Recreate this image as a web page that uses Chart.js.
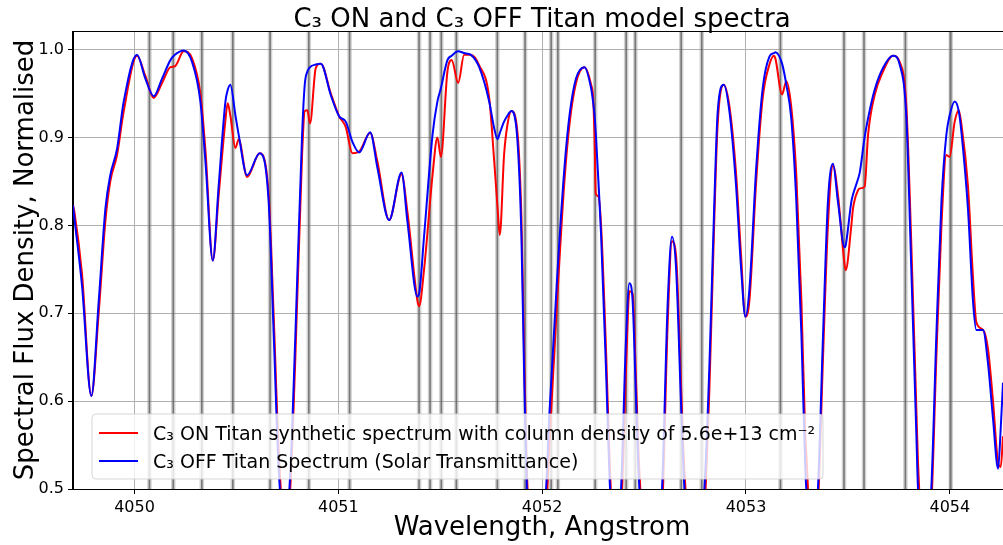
<!DOCTYPE html>
<html>
<head>
<meta charset="utf-8">
<script src="https://cdn.jsdelivr.net/npm/chart.js@4/dist/chart.umd.min.js"></script>
<style>
  html, body { margin: 0; padding: 0; background: #fff; }
  #wrap { width: 1003px; height: 545px; }
</style>
</head>
<body>
<div id="wrap"><canvas id="spectra" width="1003" height="545"></canvas></div>
<script>
// Wavelength grid (Angstrom) and normalised flux
const wavelength = [
  4049.698, 4049.705, 4049.742, 4049.788, 4049.824, 4049.857, 4049.881, 4049.914, 4049.947, 4050.012,
  4050.053, 4050.094, 4050.135, 4050.176, 4050.198, 4050.241, 4050.282, 4050.323, 4050.348, 4050.384,
  4050.413, 4050.446, 4050.457, 4050.470, 4050.495, 4050.511, 4050.552, 4050.614, 4050.658, 4050.683,
  4050.707, 4050.740, 4050.765, 4050.789, 4050.822, 4050.835, 4050.848, 4050.861, 4050.889, 4050.914,
  4050.963, 4051.004, 4051.036, 4051.069, 4051.102, 4051.156, 4051.192, 4051.249, 4051.310, 4051.339,
  4051.388, 4051.396, 4051.421, 4051.462, 4051.486, 4051.503, 4051.535, 4051.556, 4051.588, 4051.617,
  4051.650, 4051.691, 4051.740, 4051.765, 4051.781, 4051.792, 4051.813, 4051.830, 4051.849, 4051.879,
  4051.898, 4051.911, 4051.925, 4051.970, 4052.019, 4052.035, 4052.076, 4052.109, 4052.134, 4052.166,
  4052.207, 4052.240, 4052.250, 4052.257, 4052.263, 4052.276, 4052.289, 4052.313, 4052.333, 4052.360,
  4052.387, 4052.412, 4052.428, 4052.444, 4052.461, 4052.477, 4052.530, 4052.588, 4052.616, 4052.637,
  4052.657, 4052.681, 4052.698, 4052.750, 4052.796, 4052.820, 4052.845, 4052.861, 4052.891, 4052.919,
  4052.951, 4052.976, 4052.997, 4053.017, 4053.050, 4053.082, 4053.115, 4053.137, 4053.144, 4053.177,
  4053.198, 4053.222, 4053.247, 4053.272, 4053.291, 4053.296, 4053.325, 4053.353, 4053.378, 4053.402,
  4053.427, 4053.451, 4053.484, 4053.489, 4053.517, 4053.525, 4053.550, 4053.558, 4053.582, 4053.599,
  4053.631, 4053.672, 4053.721, 4053.754, 4053.787, 4053.811, 4053.836, 4053.844, 4053.875, 4053.909,
  4053.934, 4053.959, 4053.983, 4053.999, 4054.024, 4054.044, 4054.057, 4054.089, 4054.114, 4054.130,
  4054.163, 4054.187, 4054.212, 4054.237, 4054.250, 4054.261
];

// C3 OFF (solar transmittance) - blue
const c3OffFlux = [
  0.823, 0.808, 0.732, 0.606, 0.713, 0.819, 0.857, 0.887, 0.941, 0.994,
  0.967, 0.947, 0.967, 0.988, 0.994, 0.999, 0.986, 0.941, 0.872, 0.760,
  0.846, 0.941, 0.954, 0.960, 0.925, 0.903, 0.857, 0.882, 0.827, 0.675,
  0.523, 0.450, 0.523, 0.675, 0.903, 0.960, 0.975, 0.980, 0.983, 0.984,
  0.948, 0.924, 0.918, 0.895, 0.883, 0.906, 0.865, 0.806, 0.860, 0.804,
  0.719, 0.722, 0.789, 0.903, 0.941, 0.956, 0.988, 0.993, 0.998, 0.996,
  0.994, 0.980, 0.941, 0.910, 0.898, 0.905, 0.918, 0.925, 0.930, 0.895,
  0.789, 0.637, 0.500, 0.400, 0.500, 0.584, 0.751, 0.865, 0.925, 0.967,
  0.980, 0.956, 0.940, 0.925, 0.905, 0.850, 0.789, 0.637, 0.500, 0.420,
  0.500, 0.675, 0.734, 0.713, 0.599, 0.500, 0.380, 0.500, 0.713, 0.787,
  0.751, 0.599, 0.500, 0.400, 0.500, 0.637, 0.829, 0.929, 0.960, 0.929,
  0.846, 0.751, 0.696, 0.728, 0.865, 0.956, 0.992, 0.996, 0.997, 0.984,
  0.960, 0.922, 0.827, 0.675, 0.523, 0.500, 0.420, 0.500, 0.675, 0.827,
  0.870, 0.827, 0.775, 0.777, 0.827, 0.835, 0.853, 0.860, 0.900, 0.922,
  0.954, 0.979, 0.993, 0.983, 0.922, 0.751, 0.561, 0.500, 0.430, 0.500,
  0.675, 0.827, 0.903, 0.925, 0.941, 0.930, 0.906, 0.819, 0.713, 0.681,
  0.681, 0.644, 0.580, 0.523, 0.570, 0.621
];

// C3 ON (synthetic, N = 5.6e13 cm^-2) - red
const c3OnFlux = [
  0.823, 0.815, 0.745, 0.606, 0.700, 0.805, 0.850, 0.880, 0.930, 0.993,
  0.970, 0.945, 0.962, 0.980, 0.981, 0.998, 0.990, 0.950, 0.885, 0.760,
  0.835, 0.920, 0.939, 0.925, 0.888, 0.898, 0.855, 0.882, 0.835, 0.695,
  0.545, 0.450, 0.505, 0.650, 0.880, 0.930, 0.931, 0.916, 0.979, 0.984,
  0.950, 0.924, 0.912, 0.882, 0.884, 0.905, 0.872, 0.806, 0.858, 0.815,
  0.714, 0.708, 0.751, 0.857, 0.900, 0.878, 0.975, 0.988, 0.962, 0.994,
  0.994, 0.982, 0.945, 0.872, 0.820, 0.789, 0.880, 0.915, 0.930, 0.905,
  0.810, 0.660, 0.520, 0.400, 0.470, 0.550, 0.725, 0.850, 0.915, 0.962,
  0.980, 0.960, 0.945, 0.900, 0.836, 0.833, 0.800, 0.660, 0.520, 0.420,
  0.470, 0.640, 0.725, 0.722, 0.620, 0.520, 0.380, 0.470, 0.690, 0.782,
  0.765, 0.620, 0.520, 0.400, 0.475, 0.610, 0.810, 0.915, 0.960, 0.935,
  0.860, 0.765, 0.696, 0.715, 0.850, 0.945, 0.983, 0.993, 0.990, 0.949,
  0.964, 0.935, 0.857, 0.713, 0.560, 0.540, 0.420, 0.480, 0.650, 0.800,
  0.868, 0.835, 0.755, 0.749, 0.800, 0.819, 0.840, 0.842, 0.844, 0.903,
  0.948, 0.975, 0.993, 0.986, 0.935, 0.780, 0.590, 0.530, 0.430, 0.480,
  0.650, 0.800, 0.880, 0.878, 0.918, 0.931, 0.915, 0.845, 0.740, 0.690,
  0.681, 0.660, 0.600, 0.530, 0.525, 0.560
];

const xTicks = [4050, 4051, 4052, 4053, 4054];
const yTicks = [0.5, 0.6, 0.7, 0.8, 0.9, 1.0];

// positions of the grey marker lines (Angstrom)
const lineCentres = [
  4050.073, 4050.190, 4050.330, 4050.482, 4050.665, 4050.855, 4051.055,
  4051.396, 4051.450, 4051.505, 4051.579, 4051.780, 4051.916, 4052.044,
  4052.077, 4052.260, 4052.412, 4052.457, 4052.682, 4052.783, 4053.169,
  4053.481, 4053.579, 4053.782, 4054.005
];

const FONT = '"DejaVu Sans", "Liberation Sans", sans-serif';

// grey lines, frame, legend and titles
const overlay = {
  id: 'overlay',
  beforeDatasetsDraw(chart) {
    const { ctx, chartArea: a, scales: { x } } = chart;
    ctx.save();
    ctx.beginPath();
    ctx.rect(a.left, a.top, a.right - a.left, a.bottom - a.top);
    ctx.clip();
    lineCentres.forEach(w => {
      const px = x.getPixelForValue(w);
      ctx.beginPath();
      ctx.moveTo(px, a.top);
      ctx.lineTo(px, a.bottom);
      ctx.strokeStyle = 'rgba(140,140,140,0.4)';
      ctx.lineWidth = 4.5;
      ctx.stroke();
      ctx.strokeStyle = 'rgba(70,70,70,0.65)';
      ctx.lineWidth = 1.6;
      ctx.stroke();
    });
    ctx.restore();
  },
  afterDraw(chart) {
    const { ctx, chartArea: a } = chart;
    ctx.save();

    // axes frame
    ctx.strokeStyle = '#000';
    ctx.lineWidth = 1;
    ctx.strokeRect(a.left - 0.5, a.top - 0.5, a.right - a.left + 1, a.bottom - a.top + 1);

    // legend box
    const bx = 92, by = 414, bw = 731, bh = 65, r = 4;
    ctx.beginPath();
    ctx.moveTo(bx + r, by);
    ctx.arcTo(bx + bw, by, bx + bw, by + bh, r);
    ctx.arcTo(bx + bw, by + bh, bx, by + bh, r);
    ctx.arcTo(bx, by + bh, bx, by, r);
    ctx.arcTo(bx, by, bx + bw, by, r);
    ctx.closePath();
    ctx.fillStyle = 'rgba(255,255,255,0.8)';
    ctx.fill();
    ctx.strokeStyle = 'rgba(204,204,204,0.8)';
    ctx.lineWidth = 1;
    ctx.stroke();

    const entries = [
      { color: '#ff0000', text: 'C₃ ON Titan synthetic spectrum with column density of 5.6e+13 cm⁻²', y: 433 },
      { color: '#0000ff', text: 'C₃ OFF Titan Spectrum (Solar Transmittance)', y: 461 }
    ];
    entries.forEach(e => {
      ctx.beginPath();
      ctx.moveTo(99, e.y);
      ctx.lineTo(138, e.y);
      ctx.strokeStyle = e.color;
      ctx.lineWidth = 2;
      ctx.stroke();
      ctx.fillStyle = '#000';
      ctx.font = '19px ' + FONT;
      ctx.textAlign = 'left';
      ctx.textBaseline = 'alphabetic';
      ctx.fillText(e.text, 153, e.y + 7);
    });

    // title
    ctx.fillStyle = '#000';
    ctx.font = '26px ' + FONT;
    ctx.textAlign = 'center';
    ctx.textBaseline = 'alphabetic';
    ctx.fillText('C₃ ON and C₃ OFF Titan model spectra', 542, 27);

    // x axis label
    ctx.fillText('Wavelength, Angstrom', 542, 535);

    // y axis label
    ctx.translate(33, 260);
    ctx.rotate(-Math.PI / 2);
    ctx.fillText('Spectral Flux Density, Normalised', 0, 0);

    ctx.restore();
  }
};

const ctx = document.getElementById('spectra').getContext('2d');
new Chart(ctx, {
  type: 'line',
  data: {
    datasets: [
      {
        label: 'C3 ON Titan synthetic spectrum with column density of 5.6e+13 cm-2',
        data: wavelength.map((w, i) => ({ x: w, y: c3OnFlux[i] })),
        borderColor: '#ff0000',
        borderWidth: 2,
        pointRadius: 0,
        cubicInterpolationMode: 'monotone',
        order: 2
      },
      {
        label: 'C3 OFF Titan Spectrum (Solar Transmittance)',
        data: wavelength.map((w, i) => ({ x: w, y: c3OffFlux[i] })),
        borderColor: '#0000ff',
        borderWidth: 2,
        pointRadius: 0,
        cubicInterpolationMode: 'monotone',
        order: 1
      }
    ]
  },
  options: {
    responsive: false,
    animation: false,
    devicePixelRatio: 1,
    layout: { padding: { top: 32, right: 0, left: 0, bottom: 0 } },
    plugins: {
      legend: { display: false },
      title: { display: false },
      tooltip: { enabled: false }
    },
    scales: {
      x: {
        type: 'linear',
        min: 4049.698,
        max: 4054.261,
        afterBuildTicks: s => { s.ticks = xTicks.map(v => ({ value: v })); },
        afterFit: s => { s.height = 56; },
        ticks: {
          color: '#000',
          font: { family: FONT, size: 16 },
          padding: 4,
          maxRotation: 0,
          callback: v => String(v)
        },
        grid: { color: '#b0b0b0', lineWidth: 1, tickColor: '#000', tickLength: 5 },
        border: { color: '#000' }
      },
      y: {
        type: 'linear',
        min: 0.5,
        max: 1.02,
        afterBuildTicks: s => { s.ticks = yTicks.map(v => ({ value: v })); },
        afterFit: s => { s.width = 73; },
        ticks: {
          color: '#000',
          font: { family: FONT, size: 16 },
          padding: 4,
          callback: v => v.toFixed(1)
        },
        grid: { color: '#b0b0b0', lineWidth: 1, tickColor: '#000', tickLength: 5 },
        border: { color: '#000' }
      }
    }
  },
  plugins: [overlay]
});
</script>
</body>
</html>
